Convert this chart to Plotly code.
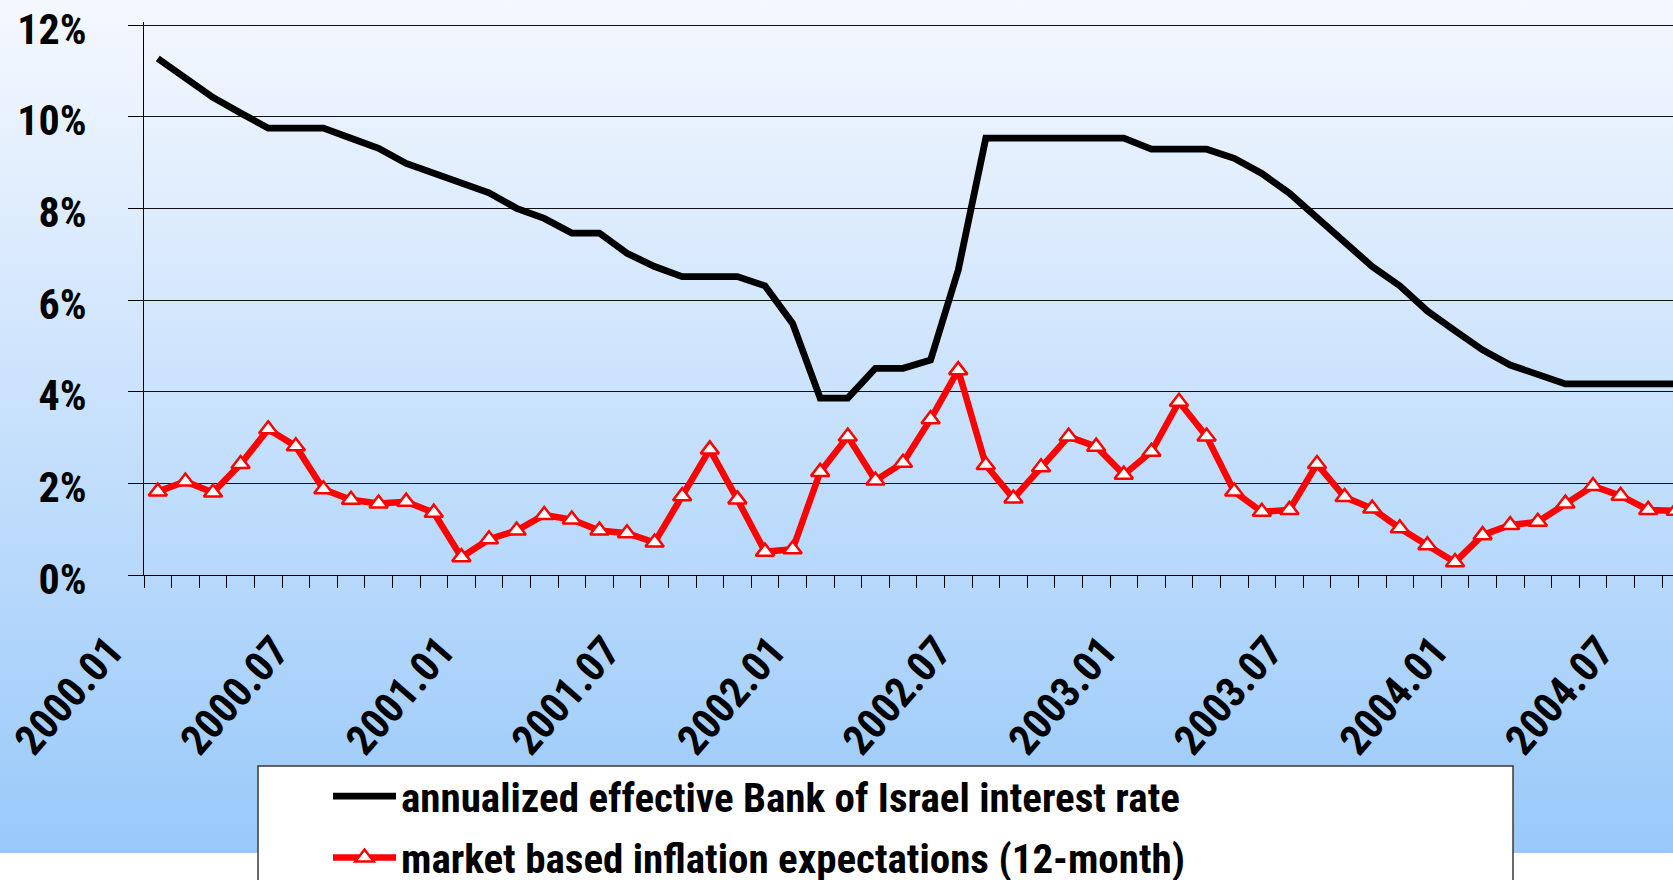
import base64
import plotly.graph_objects as go

# Monthly observations, January 2000 onwards
months = [f"{2000 + k // 12}.{k % 12 + 1:02d}" for k in range(56)]

# Annualized effective Bank of Israel interest rate (%)
boi_rate = [
    11.27, 10.84, 10.42, 10.08, 9.75, 9.75, 9.75, 9.53, 9.31, 8.98,
    8.77, 8.56, 8.34, 8.00, 7.78, 7.46, 7.46, 7.02, 6.73, 6.51,
    6.51, 6.51, 6.31, 5.49, 3.86, 3.86, 4.51, 4.51, 4.69, 6.65,
    9.53, 9.53, 9.53, 9.53, 9.53, 9.53, 9.29, 9.29, 9.29, 9.09,
    8.76, 8.33, 7.80, 7.26, 6.73, 6.31, 5.76, 5.33, 4.91, 4.58,
    4.37, 4.17, 4.17, 4.17, 4.17, 4.17,
]

# Market based 12-month inflation expectations (%)
inflation_exp = [
    1.82, 2.04, 1.80, 2.42, 3.18, 2.81, 1.87, 1.64, 1.56, 1.60,
    1.36, 0.39, 0.78, 0.97, 1.31, 1.21, 0.97, 0.91, 0.71, 1.72,
    2.74, 1.65, 0.51, 0.56, 2.25, 3.02, 2.06, 2.45, 3.40, 4.47,
    2.40, 1.67, 2.35, 3.02, 2.80, 2.19, 2.69, 3.78, 3.02, 1.82,
    1.38, 1.42, 2.42, 1.70, 1.45, 1.02, 0.65, 0.28, 0.87, 1.09,
    1.16, 1.56, 1.94, 1.73, 1.42, 1.40,
]

# Every sixth month is labelled on the time axis
label_idx = list(range(0, len(months), 6))
label_text = [months[i] for i in label_idx]

y_ticks = [0, 2, 4, 6, 8, 10, 12]

x_pos = list(range(len(months)))

# Figure geometry (pixels); 12% sits 3 px below the top of the plot area
W, H = 1673, 880
L, R, T, B = 144, 0, 22, 305
PW, PH = W - L - R, H - T - B
PX_PER_PCT = 550 / 12
Y_MAX = 12 + 3 / PX_PER_PCT


def paper_x(px):
    return (px - L) / PW


def paper_y(py):
    return (H - B - py) / PH


FONT = "Roboto Condensed, Open Sans Condensed, Arial Narrow, sans-serif"

fig = go.Figure()

fig.add_trace(go.Scatter(
    x=x_pos, y=boi_rate, mode="lines",
    name="annualized effective Bank of Israel interest rate",
    line=dict(color="black", width=6.8),
    legendgroup="a",
))

fig.add_trace(go.Scatter(
    x=x_pos, y=inflation_exp, mode="lines+markers",
    name="market based inflation expectations (12-month)",
    line=dict(color="#ff0000", width=6.5),
    marker=dict(symbol="triangle-up", size=16, color="white",
                line=dict(color="#ff0000", width=2.5)),
    legendgroup="b",
))

# Soft blue vertical gradient behind the whole chart
grad_svg = (
    '<svg xmlns="http://www.w3.org/2000/svg" width="100" height="100" '
    'preserveAspectRatio="none"><defs><linearGradient id="g" x1="0" y1="0" '
    'x2="0" y2="1"><stop offset="0" stop-color="#f5f8fe"/>'
    '<stop offset="1" stop-color="#99c9fa"/></linearGradient></defs>'
    '<rect width="100" height="100" fill="url(#g)"/></svg>'
)
grad_uri = "data:image/svg+xml;base64," + base64.b64encode(grad_svg.encode()).decode()

fig.add_layout_image(dict(
    source=grad_uri, xref="paper", yref="paper",
    x=paper_x(0), y=paper_y(0), sizex=W / PW, sizey=853 / PH,
    xanchor="left", yanchor="top", sizing="stretch", layer="below",
))

# White legend panel
fig.add_shape(
    type="rect", xref="paper", yref="paper",
    x0=paper_x(258), x1=paper_x(1513), y0=paper_y(766), y1=paper_y(905),
    fillcolor="white", line=dict(color="#3a3a3a", width=1.5), layer="above",
)

tick_font = dict(family=FONT, size=42, color="black", weight=700)

fig.update_layout(
    width=W, height=H,
    margin=dict(l=L, r=R, t=T, b=B, pad=0, autoexpand=False),
    paper_bgcolor="white",
    plot_bgcolor="rgba(0,0,0,0)",
    showlegend=True,
    legend=dict(
        x=paper_x(328), y=paper_y(763), xanchor="left", yanchor="top",
        bgcolor="rgba(0,0,0,0)", borderwidth=0,
        font=dict(family=FONT, size=41, color="black", weight=700),
        traceorder="grouped", tracegroupgap=5, itemwidth=63,
    ),
    xaxis=dict(
        range=[-0.5, -0.5 + PW / 27.6],
        tickmode="array", tickvals=label_idx, ticktext=label_text,
        tickangle=-49, ticks="", tickfont=tick_font,
        ticklabelshift=-48, ticklabelstandoff=33, ticklabeloverflow="allow",
        showline=True, linecolor="black", linewidth=1,
        showgrid=False, zeroline=False,
        minor=dict(ticks="outside", ticklen=12, tickcolor="black", tickwidth=1,
                   tickmode="linear", tick0=-0.5, dtick=1, showgrid=False),
    ),
    yaxis=dict(
        range=[0, Y_MAX], tickmode="array", tickvals=y_ticks,
        ticktext=[f"{v}%" for v in y_ticks],
        ticks="outside", ticklen=15, tickcolor="black", tickwidth=1,
        tickfont=tick_font, ticklabelstandoff=33, ticklabelshift=4,
        ticklabeloverflow="allow",
        showline=True, linecolor="black", linewidth=1,
        showgrid=True, gridcolor="#111111", gridwidth=1, zeroline=False,
    ),
)

fig.write_html("out.html")
